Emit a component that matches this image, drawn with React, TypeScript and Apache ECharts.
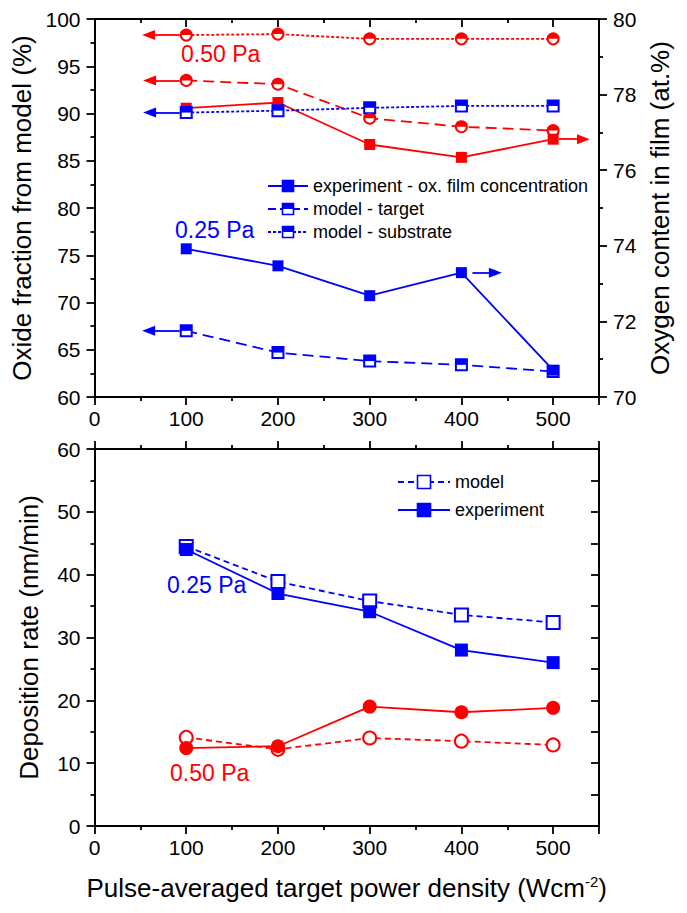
import React, { useEffect, useRef } from "react";
import * as echarts from "echarts";

// ---------- data ----------
const POWER = [100, 200, 300, 400, 500];
// top panel, 0.50 Pa (red)
const oxSub050 = [98.3, 98.4, 97.9, 97.9, 97.9]; // model - substrate (%)
const oxTgt050 = [93.5, 93.1, 89.5, 88.6, 88.2]; // model - target (%)
const oxExp050 = [77.64, 77.79, 76.68, 76.34, 76.82]; // experiment (at.%)
// top panel, 0.25 Pa (blue)
const oxSub025 = [90.1, 90.3, 90.6, 90.8, 90.8];
const oxTgt025 = [67.0, 64.7, 63.8, 63.4, 62.7];
const oxExp025 = [73.92, 73.47, 72.68, 73.29, 70.71];
// bottom panel, deposition rate (nm/min)
const depModel025 = [44.5, 38.9, 35.8, 33.6, 32.4];
const depExp025 = [44.0, 37.0, 34.1, 28.0, 26.0];
const depModel050 = [14.1, 12.2, 14.0, 13.5, 12.9];
const depExp050 = [12.4, 12.7, 19.0, 18.1, 18.8];

const RED = "#ff0000";
const BLUE = "#0000ff";
const FONT = "Liberation Sans, Arial, sans-serif";

const pair = (xs: number[], ys: number[]) => xs.map((x, i) => [x, ys[i]]);

const HALF_CIRCLE = "path://M0 10 A10 10 0 0 1 20 10 Z";

function lineS(
  data: number[],
  color: string,
  dash: any,
  symbol: string,
  size: number,
  xi: number,
  yi: number,
  extra: any = {}
) {
  const empty = symbol.startsWith("empty");
  return {
    type: "line",
    xAxisIndex: xi,
    yAxisIndex: yi,
    data: pair(POWER, data),
    symbol,
    symbolSize: size,
    showSymbol: true,
    lineStyle: { color, width: 1.8, type: dash },
    itemStyle: empty ? { color, borderWidth: 1.7 } : { color, borderWidth: 0 },
    emphasis: { disabled: true },
    silent: true,
    z: 3,
    ...extra,
  };
}

function halfS(data: number[], color: string, circle: boolean, size: number, xi: number, yi: number) {
  return {
    type: "scatter",
    xAxisIndex: xi,
    yAxisIndex: yi,
    data: pair(POWER, data),
    symbol: circle ? HALF_CIRCLE : "rect",
    symbolSize: [size, size / 2],
    symbolOffset: [0, -size / 4],
    itemStyle: { color, opacity: 1 },
    emphasis: { disabled: true },
    silent: true,
    z: 4,
  };
}

function arrow(color: string, y: number, from: number, to: number) {
  return {
    silent: true,
    symbol: ["none", "triangle"],
    symbolSize: [10, 13],
    label: { show: false },
    emphasis: { disabled: true },
    lineStyle: { color, width: 1.8, type: "solid" },
    data: [[{ coord: [from, y] }, { coord: [to, y] }]],
  };
}

const GRID_LEFT = 94.5;
const GRID_W = 504.5;
const TICK_FONT = 21;
const TITLE_FONT = 26;

function xAx(gridIndex: number, position: string, labels: boolean, inside: boolean, extra: any = {}) {
  return {
    type: "value",
    gridIndex,
    position,
    min: 0,
    max: 550,
    interval: 100,
    axisLine: { show: true, onZero: false, lineStyle: { color: "#000", width: 2 } },
    axisTick: { show: true, inside, length: 8, lineStyle: { color: "#000", width: 1.8 } },
    minorTick: { show: true, splitNumber: 2, length: 4, lineStyle: { color: "#000", width: 1.8 } },
    axisLabel: { show: labels, color: "#000", fontSize: TICK_FONT, fontFamily: FONT, margin: 11, showMaxLabel: false },
    splitLine: { show: false },
    minorSplitLine: { show: false },
    ...extra,
  };
}

function yAx(gridIndex: number, position: string, min: number, max: number, interval: number, labels: boolean, inside: boolean, extra: any = {}) {
  return {
    type: "value",
    gridIndex,
    position,
    min,
    max,
    interval,
    axisLine: { show: true, onZero: false, lineStyle: { color: "#000", width: 2 } },
    axisTick: { show: true, inside, length: 8, lineStyle: { color: "#000", width: 1.8 } },
    minorTick: { show: true, splitNumber: 2, length: 4, lineStyle: { color: "#000", width: 1.8 } },
    axisLabel: { show: labels, color: "#000", fontSize: TICK_FONT, fontFamily: FONT, margin: 14 },
    splitLine: { show: false },
    minorSplitLine: { show: false },
    nameLocation: "middle",
    nameRotate: 90,
    nameTextStyle: { color: "#000", fontSize: TITLE_FONT, fontFamily: FONT },
    ...extra,
  };
}

function legendRow(x1: number, x2: number, y: number, color: string, dash: any, kind: string, size: number, text: string, fontSize: number) {
  const cx = (x1 + x2) / 2;
  const els: any[] = [
    {
      type: "line",
      shape: { x1, y1: y, x2, y2: y },
      style: { stroke: color, lineWidth: 1.8, lineDash: dash },
      silent: true,
    },
    {
      type: "rect",
      shape: { x: cx - size / 2, y: y - size / 2, width: size, height: size },
      style: { fill: kind === "full" ? color : "#fff", stroke: color, lineWidth: 1.6 },
      silent: true,
    },
  ];
  if (kind === "half") {
    els.push({
      type: "rect",
      shape: { x: cx - size / 2, y: y - size / 2, width: size, height: size / 2 },
      style: { fill: color },
      silent: true,
    });
  }
  els.push({
    type: "text",
    x: x2 + 5,
    y,
    style: { text, fill: "#000", fontSize, fontFamily: FONT, align: "left", verticalAlign: "middle" },
    silent: true,
  });
  return els;
}

function label(text: string, x: number, y: number, color: string) {
  return {
    type: "text",
    x,
    y,
    style: { text, fill: color, fontSize: 23, fontFamily: FONT, align: "left", verticalAlign: "middle" },
    silent: true,
  };
}

export default function App() {
  const ref = useRef<HTMLDivElement>(null);
  useEffect(() => {
    document.body.style.margin = "0";
    if (!ref.current) return;
    const chart = echarts.init(ref.current, null, { renderer: "svg" });
    const option: any = {
      animation: false,
      backgroundColor: "#fff",
      textStyle: { fontFamily: FONT },
      grid: [
        { left: GRID_LEFT, top: 19, width: GRID_W, height: 378 },
        { left: GRID_LEFT, top: 449, width: GRID_W, height: 377 },
      ],
      xAxis: [
        xAx(0, "bottom", true, false),
        xAx(0, "top", false, true),
        xAx(1, "bottom", true, false, {
          name: "{a|Pulse-averaged target power density (Wcm}{s|-2}{a|)}",
          nameLocation: "middle",
          nameGap: 48,
          nameTextStyle: {
            rich: {
              a: { fontSize: TITLE_FONT, fontFamily: FONT, color: "#000", verticalAlign: "bottom" },
              s: { fontSize: 15, fontFamily: FONT, color: "#000", verticalAlign: "top", padding: [0, 0, 12, 0] },
            },
          },
        }),
        xAx(1, "top", false, false),
      ],
      yAxis: [
        yAx(0, "left", 60, 100, 5, true, false, { name: "Oxide fraction from model (%)", nameGap: 53 }),
        yAx(0, "right", 70, 80, 2, true, false, { name: "Oxygen content in film (at.%)", nameGap: 43 }),
        yAx(1, "left", 0, 60, 10, true, false, { name: "Deposition rate (nm/min)", nameGap: 53 }),
        yAx(1, "right", 0, 60, 5, false, true, { minorTick: { show: false }, axisTick: { show: true, inside: true, length: 8, lineStyle: { color: "#000", width: 1.8 } } }),
      ],
      series: [
        // top panel, 0.50 Pa
        lineS(oxSub050, RED, [3, 2], "emptyCircle", 11, 0, 0, { markLine: arrow(RED, oxSub050[0], 93, 59) }),
        halfS(oxSub050, RED, true, 11, 0, 0),
        lineS(oxTgt050, RED, [11, 6], "emptyCircle", 11, 0, 0, { markLine: arrow(RED, oxTgt050[0], 93, 60) }),
        halfS(oxTgt050, RED, true, 11, 0, 0),
        lineS(oxExp050, RED, "solid", "rect", 11, 0, 1, { markLine: arrow(RED, oxExp050[4], 506, 533) }),
        // top panel, 0.25 Pa
        lineS(oxSub025, BLUE, [3, 2], "emptyRect", 11, 0, 0, { markLine: arrow(BLUE, oxSub025[0], 93, 60) }),
        halfS(oxSub025, BLUE, false, 11, 0, 0),
        lineS(oxTgt025, BLUE, [11, 6], "emptyRect", 11, 0, 0, { markLine: arrow(BLUE, oxTgt025[0], 93, 59) }),
        halfS(oxTgt025, BLUE, false, 11, 0, 0),
        lineS(oxExp025, BLUE, "solid", "rect", 11, 0, 1, { markLine: arrow(BLUE, oxExp025[3], 412, 437) }),
        // bottom panel
        lineS(depModel025, BLUE, [6, 4], "emptyRect", 13, 2, 2),
        lineS(depExp025, BLUE, "solid", "rect", 13, 2, 2),
        lineS(depModel050, RED, [6, 4], "emptyCircle", 13, 2, 2),
        lineS(depExp050, RED, "solid", "circle", 14, 2, 2),
      ],
      graphic: [
        ...legendRow(268, 308, 186, BLUE, null, "full", 11, "experiment - ox. film concentration", 18),
        ...legendRow(268, 308, 209, BLUE, [8, 4], "half", 11, "model - target", 18),
        ...legendRow(268, 308, 232, BLUE, [3, 2], "half", 11, "model - substrate", 18),
        ...legendRow(398, 450, 482, BLUE, [6, 4], "empty", 13, "model", 18),
        ...legendRow(398, 450, 510, BLUE, null, "full", 13, "experiment", 18),
        label("0.50 Pa", 181, 54, RED),
        label("0.25 Pa", 175, 230, BLUE),
        label("0.25 Pa", 167, 585, BLUE),
        label("0.50 Pa", 170, 773, RED),
      ],
    };
    chart.setOption(option);
    return () => chart.dispose();
  }, []);
  return <div ref={ref} style={{ width: 687, height: 913 }} />;
}
